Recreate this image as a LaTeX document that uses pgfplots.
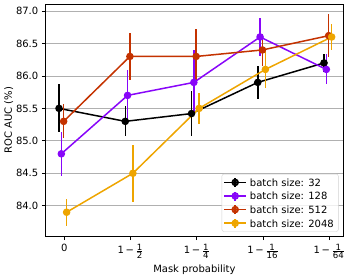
\documentclass[border=0pt]{standalone}
\usepackage{fontspec}
\setmainfont{DejaVu Sans}
\usepackage{pgfplots}
\pgfplotsset{compat=1.18}
\definecolor{cA}{RGB}{0,0,0}
\definecolor{cB}{RGB}{136,6,249}
\definecolor{cC}{RGB}{196,50,0}
\definecolor{cD}{RGB}{238,165,0}
\definecolor{gridc}{RGB}{176,176,176}
\newcommand{\fr}[2]{$\frac{\mbox{\fontsize{8.6bp}{9bp}\selectfont #1}}{\mbox{\fontsize{8.6bp}{9bp}\selectfont #2}}$}
\newcommand{\mlab}[1]{1\,−\,#1}
\begin{document}
\fontsize{10bp}{12bp}\selectfont
\begin{tikzpicture}
\begin{axis}[
  scale only axis,
  width=298.2bp, height=232.7bp,
  xmin=-0.287, xmax=4.214,
  ymin=83.523, ymax=87.108,
  xtick={0,1,2,3,4},
  xticklabels={\raisebox{-2.5bp}{0},\mlab{\fr{1}{2}},\mlab{\fr{1}{4}},\mlab{\fr{1}{16}},\mlab{\fr{1}{64}}},
  ytick={84,84.5,...,87},
  yticklabel style={/pgf/number format/.cd, fixed, fixed zerofill, precision=1, assume math mode=true},
  tick label style={font=\fontsize{10bp}{12bp}\selectfont},
  label style={font=\fontsize{10bp}{12bp}\selectfont},
  tick align=outside, tick pos=left,
  major tick length=3.5bp,
  every tick/.style={black, line width=0.8bp},
  axis line style={black, line width=0.8bp},
  ymajorgrids,
  grid style={gridc, line width=0.8bp},
  xlabel={Mask probability},
  ylabel={ROC AUC (\%)},
  every axis x label/.style={at={(rel axis cs:0.5,0)}, yshift=-32.6bp, anchor=center},
  every axis y label/.style={at={(rel axis cs:0,0.5)}, xshift=-36.5bp, rotate=90, anchor=center},
  every axis plot/.append style={line width=1.5bp, mark=*, mark size=3bp, mark options={solid}},
  error bars/y dir=both, error bars/y explicit,
  error bars/error mark=none,
  error bars/error bar style={line width=1.5bp},
  legend cell align=left,
  legend style={at={(rel axis cs:1,0)}, anchor=south east, xshift=-5bp, yshift=5bp,
    draw=gray!35, rounded corners=2bp, fill=white, fill opacity=0.8, text opacity=1,
    font=\fontsize{10bp}{12bp}\selectfont, inner sep=1.5bp, row sep=0pt,
    nodes={inner sep=3bp, text height=7.6bp, text depth=0pt}},
  legend image code/.code={
    \draw[mark repeat=2,mark phase=2] plot coordinates {(0bp,0bp) (11bp,0bp) (22bp,0bp)};
    \draw[mark=none] (11bp,-4.5bp) -- (11bp,4.5bp);
  },
]
\addplot[cA] coordinates {(-0.08,85.5) +- (0,0.37) (0.92,85.3) +- (0,0.23) (1.92,85.42) +- (0,0.35) (2.92,85.9) +- (0,0.25) (3.92,86.2) +- (0,0.14)};
\addlegendentry{batch size: 32}
\addplot[cB] coordinates {(-0.045,84.8) +- (0,0.34) (0.955,85.7) +- (0,0.39) (1.955,85.9) +- (0,0.5) (2.955,86.6) +- (0,0.3) (3.955,86.1) +- (0,0.23)};
\addlegendentry{batch size: 128}
\addplot[cC] coordinates {(-0.01,85.3) +- (0,0.26) (0.99,86.3) +- (0,0.36) (1.99,86.3) +- (0,0.42) (2.99,86.4) +- (0,0.24) (3.99,86.62) +- (0,0.33)};
\addlegendentry{batch size: 512}
\addplot[cD] coordinates {(0.035,83.9) +- (0,0.21) (1.035,84.5) +- (0,0.44) (2.035,85.5) +- (0,0.24) (3.035,86.1) +- (0,0.28) (4.035,86.6) +- (0,0.2)};
\addlegendentry{batch size: 2048}
\coordinate (bl) at (rel axis cs:0,0);
\coordinate (tr) at (rel axis cs:1,1);
\end{axis}
\pgfresetboundingbox
\path[use as bounding box] ([xshift=-45.3bp,yshift=-42.3bp]bl) rectangle ([xshift=5.5bp,yshift=4bp]tr);
\end{tikzpicture}
\end{document}
